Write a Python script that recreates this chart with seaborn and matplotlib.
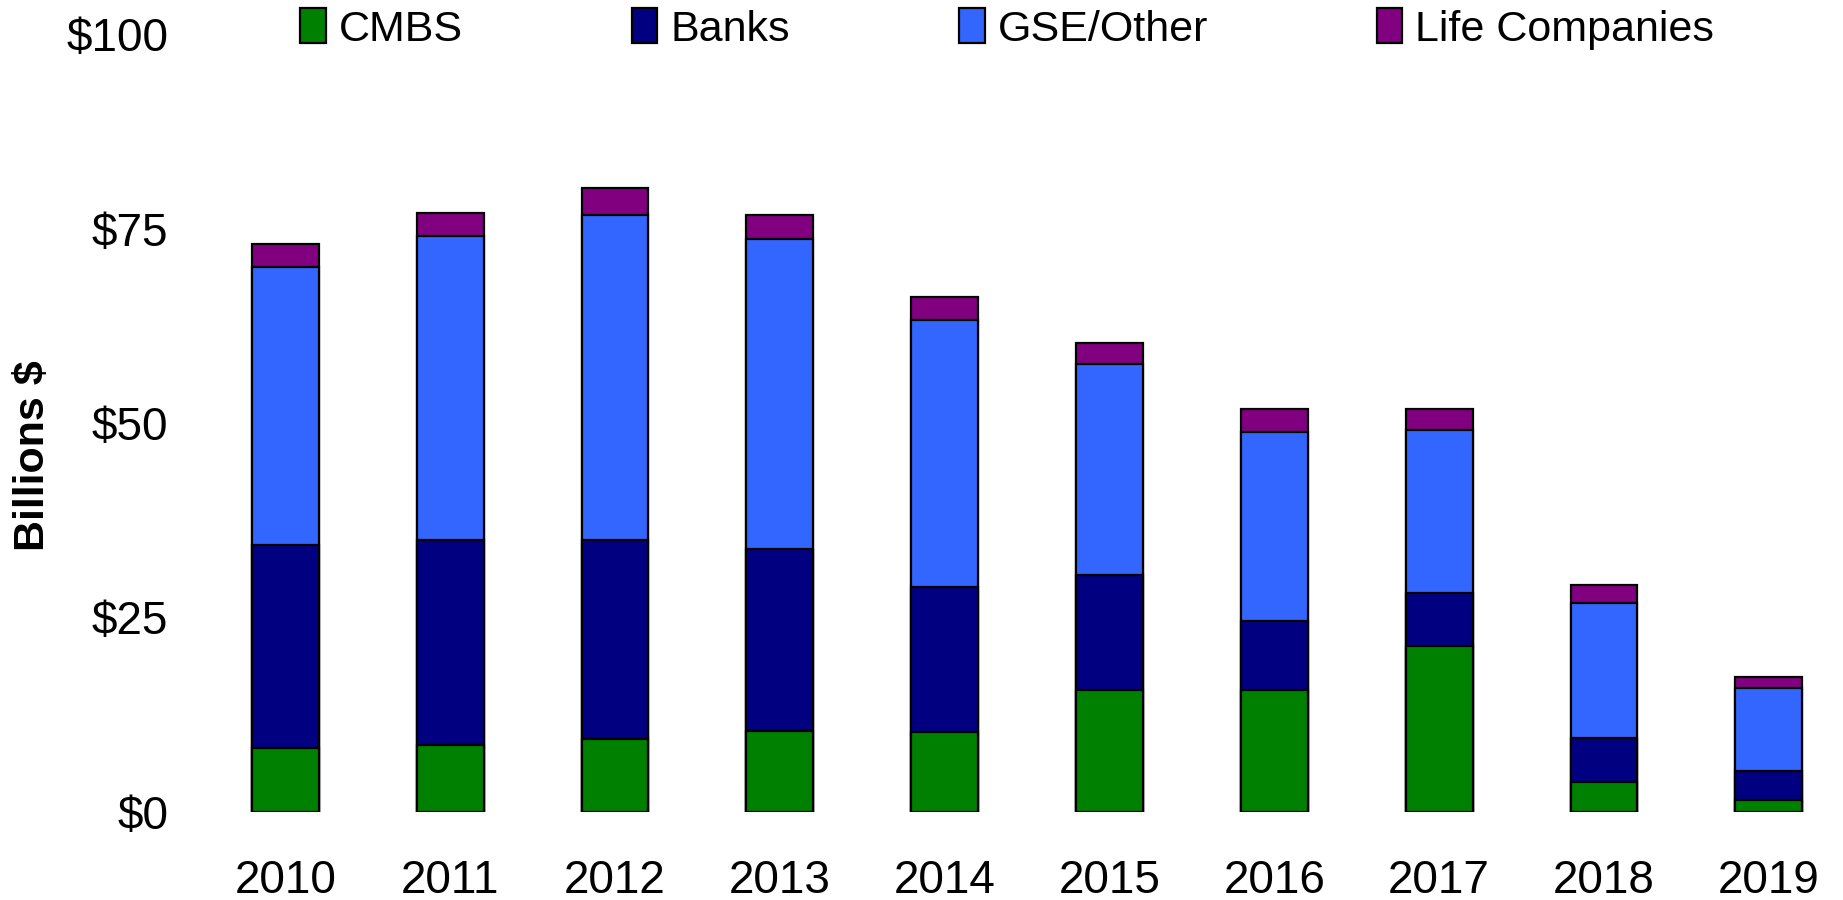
import numpy as np
import pandas as pd
import matplotlib
matplotlib.use("Agg")
import matplotlib.pyplot as plt
import seaborn as sns

# Originations by lender type, billions of dollars
years = ["2010", "2011", "2012", "2013", "2014", "2015", "2016", "2017", "2018", "2019"]
cmbs = [8.2, 8.6, 9.4, 10.4, 10.3, 15.7, 15.7, 21.3, 3.9, 1.5]
banks = [26.1, 26.3, 25.5, 23.4, 18.6, 14.7, 8.9, 6.9, 5.6, 3.8]
gse_other = [35.8, 39.1, 41.8, 39.8, 34.4, 27.2, 24.3, 20.9, 17.4, 10.6]
life_cos = [2.9, 3.0, 3.5, 3.1, 2.9, 2.7, 2.9, 2.7, 2.3, 1.5]

series_names = ["CMBS", "Banks", "GSE/Other", "Life Companies"]
series_colors = ["#008000", "#000080", "#3366FF", "#800080"]
y_ticks = [0, 25, 50, 75, 100]
y_tick_labels = ["$0", "$25", "$50", "$75", "$100"]

sns.set_theme(style="white")
plt.rcParams["font.family"] = ["Liberation Sans", "DejaVu Sans"]
plt.rcParams["text.color"] = "black"
plt.rcParams["xtick.color"] = "black"
plt.rcParams["ytick.color"] = "black"
plt.rcParams["axes.labelcolor"] = "black"

df = pd.DataFrame({"year": years, "CMBS": cmbs, "Banks": banks,
                   "GSE/Other": gse_other, "Life Companies": life_cos})
cum = df[series_names].cumsum(axis=1)
cum["year"] = df["year"]

fig = plt.figure(figsize=(18.43, 9.0), dpi=100)
ax = fig.add_axes([0.1101, 0.0978, 0.8899, 0.8644])

# Draw cumulative stacks from the top segment down so each lower layer sits on top
for name, color in reversed(list(zip(series_names, series_colors))):
    sns.barplot(data=cum, x="year", y=name, color=color, saturation=1,
                width=0.406, edgecolor="black", linewidth=1.6, label=name,
                legend=False, ax=ax)

ax.set_ylim(0, 100)
ax.set_xlim(-0.5, len(years) - 0.55)
ax.set_yticks(y_ticks)
ax.set_yticklabels(y_tick_labels)
ax.set_xlabel("")
ax.set_ylabel("Billions $", fontsize=31, fontweight="bold", va="center")
ax.yaxis.set_label_coords(-0.1037, 0.4576)
ax.tick_params(axis="y", length=0, pad=25, labelsize=33)
ax.tick_params(axis="x", length=0, pad=34, labelsize=33)
for sp in ax.spines.values():
    sp.set_visible(False)
ax.grid(False)
if ax.get_legend() is not None:
    ax.get_legend().remove()

handles, labels = ax.get_legend_handles_labels()
order = [labels.index(n) for n in series_names]
fig.legend([handles[i] for i in order], [labels[i] for i in order],
           loc="center left", bbox_to_anchor=(300 / 1843, 1 - 29 / 900),
           ncol=4, frameon=False, fontsize=31, borderpad=0, borderaxespad=0,
           handlelength=0.6, handleheight=0.85, handletextpad=0.3,
           columnspacing=3.92)

fig.savefig("out.png", dpi=100)
